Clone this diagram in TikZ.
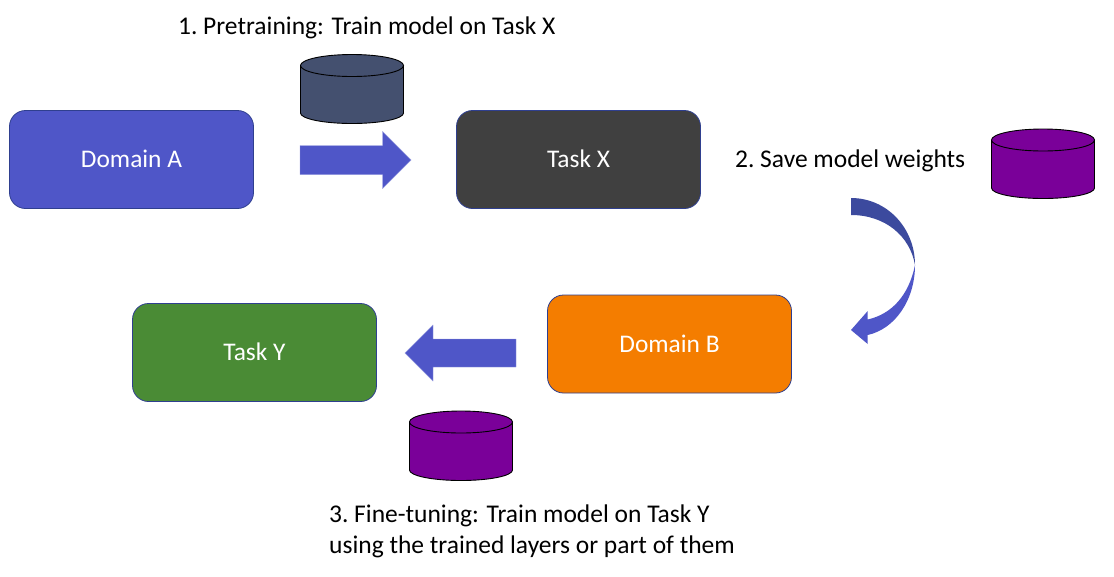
\documentclass[tikz,border=0pt]{standalone}
\usepackage{fontspec}
\setmainfont{Carlito}
\definecolor{blueA}{HTML}{4F56C8}
\definecolor{blueD}{HTML}{3C4A9E}
\definecolor{edgeB}{HTML}{2F3F8F}
\definecolor{darkX}{HTML}{404040}
\definecolor{orangeB}{HTML}{F47D00}
\definecolor{greenY}{HTML}{4A8B35}
\definecolor{slateC}{HTML}{44506F}
\definecolor{purpleC}{HTML}{7A0099}
\tikzset{
  boxnode/.style={draw=edgeB,line width=0.8pt,rounded corners=16pt,minimum width=244pt,minimum height=98pt,text=white,font=\fontsize{25.4}{30}\selectfont,inner sep=0pt},
  label/.style={text=black,font=\fontsize{25.5}{31}\selectfont,inner sep=0pt,align=left},
  blockarrow/.style={fill=blueA,draw=blueA!60,line width=0.4pt},
  cyl/.style={draw=black,line width=0.9pt}
}
\newcommand{\drumshape}[4]{% x-left, y-rim-centre, y-base-centre, fill
  \fill[#4] (#1,#2) arc[start angle=180,end angle=360,x radius=51.5,y radius=11] -- (#1+103,#3) arc[start angle=0,end angle=-180,x radius=51.5,y radius=10.5] -- cycle;
  \fill[#4] (#1,#2) arc[start angle=180,end angle=0,x radius=51.5,y radius=11] -- (#1+103,#3) arc[start angle=0,end angle=180,x radius=51.5,y radius=10.5] -- cycle;
  \draw[cyl] (#1,#2) arc[start angle=180,end angle=540,x radius=51.5,y radius=11];
  \draw[cyl] (#1,#2) -- (#1,#3) arc[start angle=180,end angle=0,x radius=51.5,y radius=10.5] -- (#1+103,#2);
}
\begin{document}
\begin{tikzpicture}[x=1pt,y=-1pt]
\useasboundingbox (0,0) rectangle (1114,576);
\node[boxnode,fill=blueA,text depth=0pt] (domA) at (131.5,159.5) {\raisebox{0.7pt}{Domain A}};
\node[boxnode,fill=darkX] (taskX) at (578.5,159.5) {\raisebox{0.7pt}{Task X}};
\node[boxnode,fill=orangeB] (domB) at (669.5,344) {Domain B};
\node[boxnode,fill=greenY] (taskY) at (254.5,352.5) {\raisebox{0.7pt}{Task Y}};

\node[label,anchor=west] (t1) at (178,27.5) {1.\hspace{-2pt} Pretraining: Train model on Task X};
\node[label,anchor=west] (t2) at (735,160.5) {2.\hspace{-2pt} Save model weights};
\node[label,anchor=north west] (t3) at (329,505) {3.\hspace{-2pt} Fine-tuning: Train model on Task Y\\using the trained layers or part of them};

\drumshape{300.5}{65.5}{113}{slateC}
\drumshape{991.5}{140}{188}{purpleC}
\drumshape{409.5}{422}{470}{purpleC}

\draw[blockarrow] (300,145.5) -- (382.5,145.5) -- (382.5,131.5) -- (411,160) -- (382.5,188.5) -- (382.5,174.5) -- (300,174.5) -- cycle;
\draw[blockarrow] (516,339) -- (433,339) -- (433,325) -- (405,353) -- (433,381) -- (433,367) -- (516,367) -- cycle;

% curved arrow
\fill[blueD] (851,198) .. controls (887,198) and (915,228) .. (915,265) .. controls (910,236) and (885,215) .. (851,215) -- cycle;
\fill[blueA] (915,265) .. controls (915,300) and (895,329) .. (867.7,335) -- (867.7,344) -- (851,330) -- (867.7,311) -- (867.7,319.5) .. controls (892,314) and (909,295) .. (915,265) -- cycle;
\end{tikzpicture}
\end{document}
